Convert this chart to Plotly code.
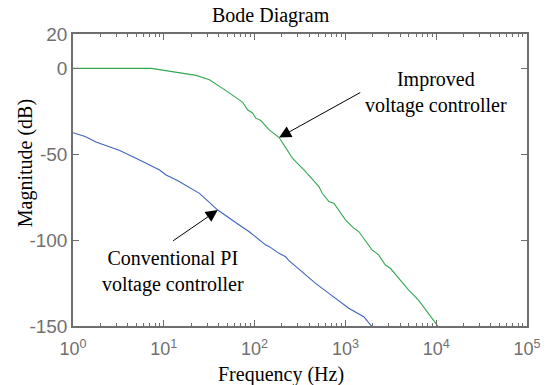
import math
import plotly.graph_objects as go

# Frequency response magnitude, improved voltage controller
freq_improved = [1, 7.3, 22.7, 31.8, 46.5, 73.6, 83.6, 94.8, 103, 117, 145, 186, 219,
                 261, 308, 350, 511, 556, 658, 746, 1002, 1236, 1403, 1807, 1963,
                 2323, 2754, 3126, 3855, 4955, 6383, 7870, 9311, 10570]
mag_improved = [0, 0, -4.1, -6.6, -12.4, -19.6, -24.1, -26.0, -29.0, -30.4, -35.8, -40.3, -46.0,
                -52.3, -56.2, -59.1, -68.8, -72.7, -77.6, -78.5, -88.2, -93.0, -95.0, -102.8, -105.7,
                -108.6, -114.5, -116.4, -122.3, -129.0, -134.9, -141.7, -146.6, -150.5]

# Frequency response magnitude, conventional PI voltage controller
freq_pi = [1, 1.36, 1.82, 2.55, 3.27, 5.0, 5.9, 9.0, 10.6, 14.3, 24.7, 39.3, 67.8, 87.3,
           133, 145, 186, 220, 239, 308, 470, 658, 1089, 1592, 1963]
mag_pi = [-37.5, -39.7, -43.0, -45.5, -47.8, -52.5, -54.5, -59.2, -62.1, -65.4, -72.8, -82.5, -91.2, -95.1,
          -102.9, -103.8, -107.7, -109.7, -112.0, -117.0, -125.2, -131.0, -139.7, -144.6, -150.4]

x_tick_vals = [1, 10, 100, 1000, 10000, 100000]
x_tick_text = ["10<sup>0</sup>", "10<sup>1</sup>", "10<sup>2</sup>", "10<sup>3</sup>",
               "10<sup>4</sup>", "10<sup>5</sup>"]
y_tick_vals = [20, 0, -50, -100, -150]
y_tick_text = ["20", "0", "-50", "-100", "-150"]

GREEN = "#34a853"
BLUE = "#4062c0"
AXIS = "#6e6e6e"
SERIF = "Liberation Serif, Times New Roman, serif"
SANS = "Liberation Sans, Arial, Helvetica, sans-serif"

fig = go.Figure()
fig.add_trace(go.Scatter(x=freq_improved, y=mag_improved, mode="lines",
                         line=dict(color=GREEN, width=1.1), showlegend=False))
fig.add_trace(go.Scatter(x=freq_pi, y=mag_pi, mode="lines",
                         line=dict(color=BLUE, width=1.1), showlegend=False))

minor_vals = [m * 10 ** k for k in range(5) for m in range(2, 10)]

fig.update_xaxes(type="log", range=[0, 5], tickvals=x_tick_vals, ticktext=x_tick_text,
                 showline=True, linecolor=AXIS, linewidth=1.5, mirror="ticks",
                 ticks="inside", ticklen=6, tickcolor=AXIS, tickwidth=1,
                 ticklabelstandoff=6,
                 minor=dict(tickvals=minor_vals, ticks="inside", ticklen=3,
                            tickcolor=AXIS, tickwidth=1, showgrid=False),
                 showgrid=False, zeroline=False,
                 tickfont=dict(family=SANS, size=18, color="#707070"))
fig.update_yaxes(range=[-150, 20], tickvals=y_tick_vals, ticktext=y_tick_text,
                 showline=True, linecolor=AXIS, linewidth=1.5, mirror="ticks",
                 ticks="inside", ticklen=6, tickcolor=AXIS, tickwidth=1,
                 showgrid=False, zeroline=False,
                 tickfont=dict(family=SANS, size=19, color="#707070"))


def paper_x(px):
    return (px - 73) / 456


def paper_y(py):
    return (326 - py) / 292


def label(px, py, text, angle=0):
    return dict(x=paper_x(px), y=paper_y(py), xref="paper", yref="paper",
                xanchor="center", yanchor="middle", text=text, showarrow=False,
                textangle=angle, font=dict(family=SERIF, size=20, color="black"))


# Arrows pointing at each curve, tips placed on data points
i_tip = freq_improved.index(186)
p_tip = freq_pi.index(39.3)
annotations = [
    dict(x=math.log10(freq_improved[i_tip]), y=mag_improved[i_tip], xref="x", yref="y",
         ax=3.18, ay=-13.6, axref="x", ayref="y", showarrow=True, arrowhead=2,
         arrowsize=2.4, arrowwidth=1, arrowcolor="black", text=""),
    dict(x=math.log10(freq_pi[p_tip]), y=mag_pi[p_tip], xref="x", yref="y",
         ax=1.086, ay=-101, axref="x", ayref="y", showarrow=True, arrowhead=2,
         arrowsize=2.4, arrowwidth=1, arrowcolor="black", text=""),
    label(438, 92, "Improved<br>voltage controller"),
    label(173, 271, "Conventional PI<br>voltage controller"),
    label(272, 16, "Bode Diagram"),
    label(282, 374, "Frequency (Hz)"),
    label(25, 163, "Magnitude (dB)", angle=-90),
]

fig.update_layout(width=553, height=385, margin=dict(l=73, r=24, t=34, b=59),
                  plot_bgcolor="white", paper_bgcolor="white",
                  annotations=annotations)

fig.write_html("out.html")
